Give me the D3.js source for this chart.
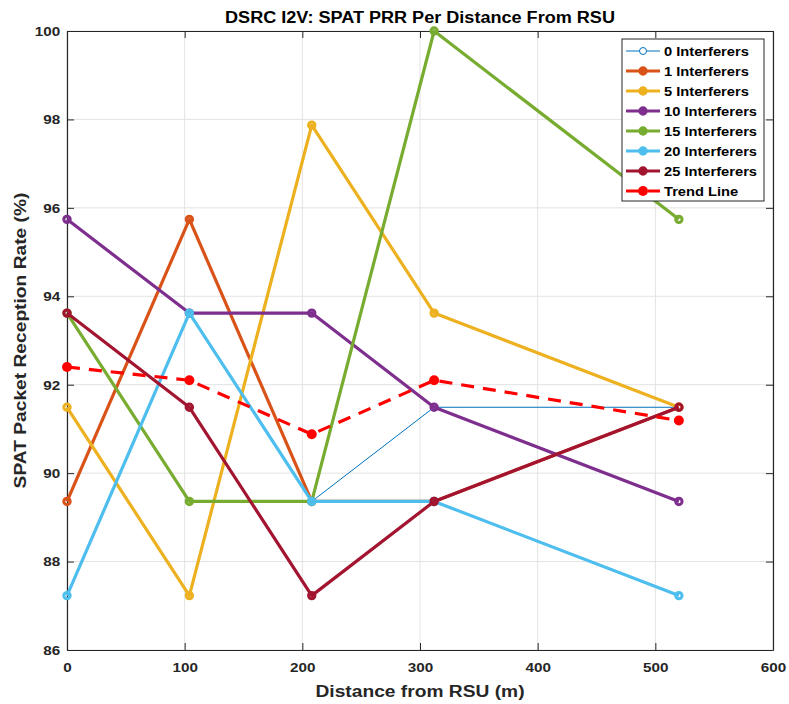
<!DOCTYPE html>
<html><head><meta charset="utf-8">
<script src="https://cdn.jsdelivr.net/npm/d3@7"></script>
<style>body{margin:0;background:#fff}text{font-family:"Liberation Sans",Arial,sans-serif;font-weight:bold}</style>
</head><body>
<svg id="c" width="789" height="704"></svg>
<script>
const distances = [0, 104, 208, 312, 520];
const seriesNames = ["0 Interferers","1 Interferers","5 Interferers","10 Interferers","15 Interferers","20 Interferers","25 Interferers","Trend Line"];
const int0  = [95.74, 93.62, 89.36, 91.49, 91.49];
const int1  = [89.36, 95.74, 89.36, 89.36, 91.49];
const int5  = [91.49, 87.23, 97.87, 93.62, 91.49];
const int10 = [95.74, 93.62, 93.62, 91.49, 89.36];
const int15 = [93.62, 89.36, 89.36, 100.0, 95.74];
const int20 = [87.23, 93.62, 89.36, 89.36, 87.23];
const int25 = [93.62, 91.49, 87.23, 89.36, 91.49];
const trend = [92.40, 92.10, 90.88, 92.10, 91.19];
const xTicks = [0,100,200,300,400,500,600];
const yTicks = [86,88,90,92,94,96,98,100];
const colors = ["#0072BD","#D95319","#EDB120","#7E2F8E","#77AC30","#4DBEEE","#A2142F","#FF0000"];
const allSeries = [int0,int1,int5,int10,int15,int20,int25,trend];

const svg = d3.select("#c");
const L=67, R=773, T=31, B=650;
const x = d3.scaleLinear().domain([0,600]).range([L,R]);
const y = d3.scaleLinear().domain([86,100]).range([B,T]);
const SX = 1.13;

function addText(g, px, py, size, str, anchor, rot, fill){
  return g.append("text")
    .attr("transform",`translate(${px},${py})${rot?` rotate(${rot})`:""} scale(${SX},1)`)
    .attr("text-anchor",anchor||"start").attr("font-size",size)
    .attr("fill",fill||"#000").text(str);
}

// grid
svg.append("g").selectAll("line").data(xTicks).join("line")
  .attr("x1",d=>x(d)).attr("x2",d=>x(d)).attr("y1",T).attr("y2",B)
  .attr("stroke","#e3e3e3").attr("stroke-width",1);
svg.append("g").selectAll("line").data(yTicks).join("line")
  .attr("y1",d=>y(d)).attr("y2",d=>y(d)).attr("x1",L).attr("x2",R)
  .attr("stroke","#e3e3e3").attr("stroke-width",1);

// axes
const tk = 7;
const xa = svg.append("g").attr("transform",`translate(0,${B})`)
  .call(d3.axisBottom(x).tickValues(xTicks).tickSizeInner(-tk).tickSizeOuter(0).tickPadding(12));
const xt = svg.append("g").attr("transform",`translate(0,${T})`)
  .call(d3.axisTop(x).tickValues(xTicks).tickSizeInner(-tk).tickSizeOuter(0).tickFormat(""));
const ya = svg.append("g").attr("transform",`translate(${L},0)`)
  .call(d3.axisLeft(y).tickValues(yTicks).tickSizeInner(-tk).tickSizeOuter(0).tickPadding(6));
const yr = svg.append("g").attr("transform",`translate(${R},0)`)
  .call(d3.axisRight(y).tickValues(yTicks).tickSizeInner(-tk).tickSizeOuter(0).tickFormat(""));
[xa,xt,ya,yr].forEach(g=>{
  g.select(".domain").attr("stroke","#262626").attr("stroke-width",1.2);
  g.selectAll(".tick line").attr("stroke","#262626");
  g.selectAll("text").attr("font-size",13.5).attr("fill","#262626")
   .attr("font-family","Liberation Sans, Arial, sans-serif").attr("font-weight","bold")
   .attr("transform",`scale(${SX},1)`);
});

const line = d3.line().x((d,i)=>x(distances[i])).y(d=>y(d));
allSeries.forEach((s,k)=>{
  const g = svg.append("g");
  const isT = k===7, thin = k===0;
  g.append("path").attr("d",line(s)).attr("fill","none")
    .attr("stroke",colors[k]).attr("stroke-width",thin?1:3.2)
    .attr("stroke-dasharray",isT?"13,9":null).attr("stroke-linejoin","round");
  g.selectAll("circle").data(s).join("circle")
    .attr("cx",(d,i)=>x(distances[i])).attr("cy",d=>y(d))
    .attr("r",isT?5:(thin?3.5:3.2))
    .attr("fill",isT?colors[k]:"none")
    .attr("stroke",colors[k]).attr("stroke-width",isT?0:(thin?1:3));
});

// legend
const lg = svg.append("g");
lg.append("rect").attr("x",622).attr("y",39).attr("width",142).attr("height",162)
  .attr("fill","#fff").attr("stroke","#262626").attr("stroke-width",1);
seriesNames.forEach((n,k)=>{
  const yy = 51 + k*20;
  const isT = k===7, thin = k===0;
  lg.append("line").attr("x1",626).attr("x2",660).attr("y1",yy).attr("y2",yy)
    .attr("stroke",colors[k]).attr("stroke-width",thin?1:3.2)
    .attr("stroke-dasharray",isT?"13,9":null);
  lg.append("circle").attr("cx",643).attr("cy",yy).attr("r",isT?5:(thin?3.5:3.2))
    .attr("fill",isT?colors[k]:(thin?"#fff":colors[k]))
    .attr("stroke",colors[k]).attr("stroke-width",isT?0:(thin?1:3));
  addText(lg, 664, yy+5, 13, n, "start");
});

// titles
addText(svg, (L+R)/2, 23, 16, "DSRC I2V: SPAT PRR Per Distance From RSU", "middle");
addText(svg, (L+R)/2, 697, 17, "Distance from RSU (m)", "middle", 0, "#262626");
addText(svg, 26, (T+B)/2, 17, "SPAT Packet Reception Rate (%)", "middle", -90, "#262626");
</script>
</body></html>
